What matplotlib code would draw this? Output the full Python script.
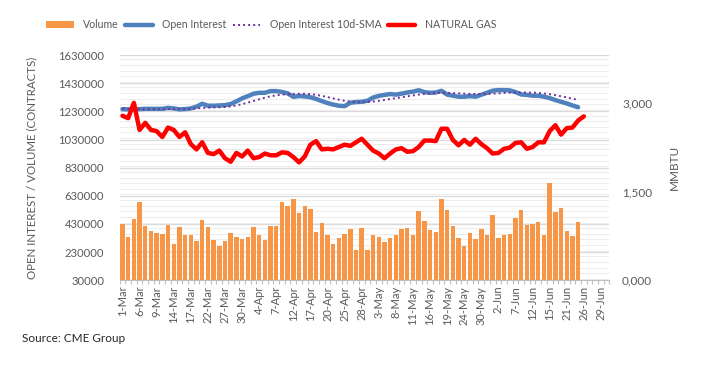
import numpy as np
import pandas as pd
import matplotlib
matplotlib.use("Agg")
import matplotlib.pyplot as plt
from matplotlib.patches import Patch
from matplotlib.lines import Line2D
from matplotlib.ticker import FixedLocator, MultipleLocator, StrMethodFormatter

plt.rcParams['font.family'] = ['Lato', 'DejaVu Sans']

# trading days 1-Mar .. 30-Jun (Memorial Day and Juneteenth closed)
days = pd.bdate_range('2023-03-01', '2023-06-30')
days = days[~days.isin(pd.to_datetime(['2023-05-29', '2023-06-19']))]
day_labels = [f"{d.day}-{d.strftime('%b')}" for d in days]

volume = [430000, 338000, 465000, 585000, 416000, 381000, 366000, 359000, 421000, 289000,
          409000, 352000, 352000, 312000, 458000, 409000, 317000, 275000, 310000, 366000,
          338000, 324000, 338000, 409000, 352000, 317000, 416000, 416000, 585000, 557000,
          607000, 508000, 557000, 536000, 376000, 437000, 352000, 289000, 331000, 359000,
          395000, 247000, 399000, 247000, 352000, 338000, 303000, 331000, 352000, 395000,
          402000, 352000, 522000, 451000, 388000, 374000, 607000, 529000, 416000, 331000,
          275000, 366000, 324000, 395000, 352000, 494000, 331000, 352000, 359000, 472000,
          529000, 423000, 430000, 444000, 352000, 719000, 515000, 543000, 381000, 345000,
          444000]

open_interest = [1246000, 1244000, 1245000, 1246000, 1248000, 1248000, 1248000, 1248000, 1255000, 1251000,
                 1244000, 1246000, 1251000, 1263000, 1284000, 1270000, 1270000, 1272000, 1274000, 1282000,
                 1301000, 1322000, 1338000, 1355000, 1362000, 1362000, 1374000, 1374000, 1368000, 1358000,
                 1333000, 1339000, 1336000, 1330000, 1318000, 1303000, 1289000, 1278000, 1270000, 1267000,
                 1291000, 1296000, 1298000, 1305000, 1328000, 1340000, 1347000, 1353000, 1349000, 1356000,
                 1364000, 1370000, 1380000, 1367000, 1362000, 1364000, 1376000, 1349000, 1341000, 1334000,
                 1334000, 1338000, 1334000, 1348000, 1362000, 1377000, 1381000, 1381000, 1379000, 1367000,
                 1350000, 1347000, 1341000, 1341000, 1334000, 1324000, 1310000, 1298000, 1286000, 1272000,
                 1259000]

oi_sma10 = [1250000, 1248000, 1247000, 1246000, 1245000, 1245000, 1245000, 1245000, 1246000, 1246000,
            1247000, 1247000, 1248000, 1251000, 1254000, 1256000, 1258000, 1259000, 1261000, 1265000,
            1272000, 1281000, 1292000, 1304000, 1316000, 1327000, 1337000, 1344000, 1349000, 1352000,
            1354000, 1355000, 1355000, 1352000, 1347000, 1340000, 1331000, 1322000, 1313000, 1305000,
            1299000, 1296000, 1295000, 1296000, 1300000, 1305000, 1311000, 1317000, 1324000, 1330000,
            1337000, 1343000, 1349000, 1354000, 1358000, 1361000, 1363000, 1362000, 1360000, 1358000,
            1356000, 1354000, 1353000, 1353000, 1354000, 1356000, 1358000, 1361000, 1363000, 1364000,
            1364000, 1364000, 1363000, 1361000, 1357000, 1352000, 1345000, 1337000, 1329000, 1320000,
            1311000]

natgas = [2.79, 2.75, 3.01, 2.55, 2.67, 2.55, 2.53, 2.43, 2.59, 2.55,
          2.43, 2.51, 2.31, 2.22, 2.34, 2.16, 2.14, 2.20, 2.07, 2.01,
          2.16, 2.10, 2.20, 2.07, 2.09, 2.15, 2.12, 2.12, 2.17, 2.16,
          2.09, 2.00, 2.10, 2.30, 2.36, 2.22, 2.23, 2.22, 2.26, 2.30,
          2.28, 2.34, 2.40, 2.30, 2.20, 2.15, 2.07, 2.15, 2.22, 2.24,
          2.18, 2.19, 2.26, 2.37, 2.37, 2.36, 2.57, 2.57, 2.38, 2.29,
          2.38, 2.30, 2.40, 2.31, 2.24, 2.15, 2.16, 2.23, 2.25, 2.33,
          2.34, 2.23, 2.26, 2.34, 2.34, 2.53, 2.63, 2.47, 2.58, 2.59,
          2.71, 2.78]

GREY = '#595959'
ORANGE = '#F79646'
BLUE = '#4F81BD'
PURPLE = '#7030A0'
RED = '#FF0000'

fig = plt.figure(figsize=(7.12, 3.77), dpi=100)
ax = fig.add_axes([0.168, 0.2565, 0.688, 0.5975])
ax2 = ax.twinx()

x = np.arange(len(days))

ax.bar(x[:len(volume)], volume, width=0.78, color=ORANGE, zorder=2)
ax.plot(x[:len(open_interest)], open_interest, color=BLUE, lw=3.2, solid_capstyle='round', zorder=3)
ax.plot(x[:len(oi_sma10)], oi_sma10, color=PURPLE, lw=1.4, ls=(0, (1, 1.6)), zorder=4)
ax2.plot(x[:len(natgas)], natgas, color=RED, lw=3.2, solid_capstyle='round', solid_joinstyle='round')

ax.set_xlim(-0.5, len(days) - 0.5)
ax.set_ylim(30000, 1630000)
ax.set_yticks(np.arange(30000, 1630001, 200000))
ax.yaxis.set_major_formatter(StrMethodFormatter('{x:.0f}'))
ax.yaxis.set_minor_locator(MultipleLocator(40000))
ax.grid(which='major', axis='y', color='#D9D9D9', lw=0.9, zorder=0)
ax.grid(which='minor', axis='y', color='#EDEDED', lw=0.8, zorder=0)
ax.set_axisbelow(True)

ax2.set_ylim(0, 3.82)
ax2.set_yticks([0, 1.5, 3.0])
ax2.set_yticklabels(['0,000', '1,500', '3,000'])

ax.set_xticks(x[::3])
ax.set_xticklabels(day_labels[::3], rotation=90)
ax.xaxis.set_minor_locator(FixedLocator(np.arange(-0.5, len(days), 1)))
ax.tick_params(axis='x', which='major', length=0, pad=4, labelsize=8, labelcolor=GREY)
ax.tick_params(axis='x', which='minor', length=3, color='#BFBFBF', width=0.8)
ax.tick_params(axis='y', which='both', length=0, pad=11, labelsize=8.1, labelcolor=GREY)
ax2.tick_params(axis='y', length=0, pad=9, labelsize=8.5, labelcolor=GREY)

for a in (ax, ax2):
    for s in ('left', 'right', 'top', 'bottom'):
        a.spines[s].set_visible(False)
ax.spines['bottom'].set_visible(True)
ax.spines['bottom'].set_color('#BFBFBF')

ax.set_ylabel('OPEN INTEREST / VOLUME (CONTRACTS)', fontsize=8.3, color=GREY)
ax.yaxis.set_label_coords(-0.168, 0.5)
ax2.set_ylabel('MMBTU', fontsize=8.5, color=GREY, labelpad=12)

handles = [Patch(facecolor=ORANGE, edgecolor='none'),
           Line2D([], [], color=BLUE, lw=3.2, solid_capstyle='round'),
           Line2D([], [], color=PURPLE, lw=1.4, ls=(0, (1, 1.6))),
           Line2D([], [], color=RED, lw=3.2, solid_capstyle='round')]
labels = ['Volume', 'Open Interest', 'Open Interest 10d-SMA', 'NATURAL GAS']
leg = fig.legend(handles, labels, loc='center', bbox_to_anchor=(0.381, 0.934), ncol=4,
                 frameon=False, fontsize=7.6, handlelength=2.6, handleheight=0.7,
                 columnspacing=0.6, handletextpad=0.9, labelcolor=GREY)

fig.text(0.031, 0.103, 'Source: CME Group', fontsize=8.5, color='#262626', va='center')

fig.savefig('out.png', dpi=100)
